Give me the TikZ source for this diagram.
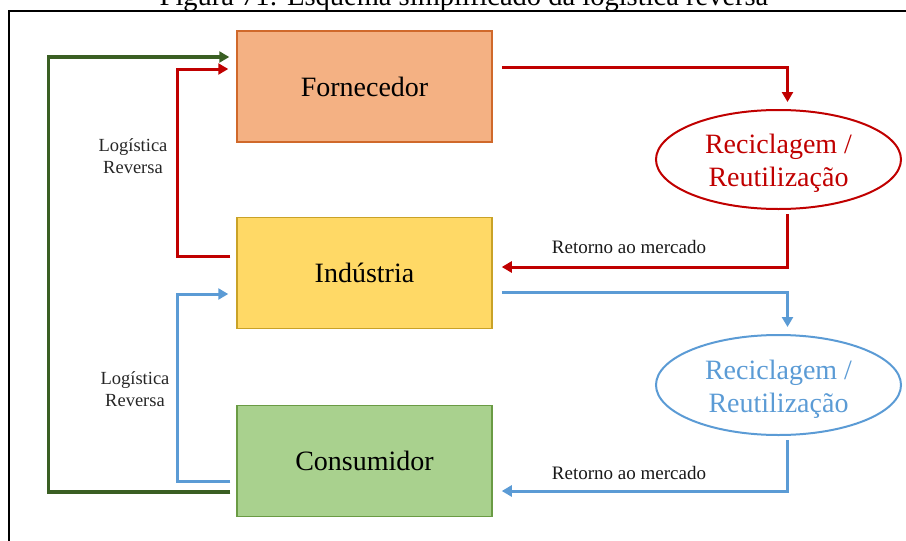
\documentclass[tikz,border=0pt]{standalone}
\usepackage{fontspec}
\setmainfont{Liberation Serif}
\usetikzlibrary{arrows.meta,calc,shapes.geometric}
\definecolor{orfill}{HTML}{F4B183}
\definecolor{ordraw}{HTML}{D0692B}
\definecolor{yefill}{HTML}{FFD966}
\definecolor{yedraw}{HTML}{C9A227}
\definecolor{grfill}{HTML}{A9D18E}
\definecolor{grdraw}{HTML}{6A9B44}
\definecolor{myred}{HTML}{C00000}
\definecolor{myblue}{HTML}{5B9BD5}
\definecolor{mygreen}{HTML}{3A5F23}
\tikzset{
  mainbox/.style={rectangle, minimum width=255pt, minimum height=111pt, inner sep=0pt, line width=1.5pt, font=\fontsize{28}{33}\selectfont},
  recell/.style={ellipse, minimum width=245pt, minimum height=99pt, inner sep=0pt, line width=2pt, align=center, font=\fontsize{28}{33}\selectfont},
  flow/.style={line width=3pt, -{Triangle[length=10pt,width=11pt]}},
  lbl/.style={align=center, font=\fontsize{18.5}{22}\selectfont, text=black!85},
  rlbl/.style={font=\fontsize{19}{22}\selectfont, text=black!90}
}
\begin{document}
\begin{tikzpicture}[x=1pt,y=-1pt]
\useasboundingbox (0,0) rectangle (906,541);
% frame and title
\node[anchor=base, font=\fontsize{28.5}{33}\selectfont] (title) at (464,5) {Figura 71: Esquema simplificado da logística reversa};
\draw[line width=2pt] (8.5,560) -- (8.5,11) -- (920,11);
% boxes
\node[mainbox, fill=orfill, draw=ordraw] (F) at (364.5,86.5) {Fornecedor};
\node[mainbox, fill=yefill, draw=yedraw] (I) at (364.5,273) {Indústria};
\node[mainbox, fill=grfill, draw=grdraw] (C) at (364.5,461) {Consumidor};
% ellipses
\node[recell, draw=myred, text=myred] (R1) at (778.5,159.5) {\rule{0pt}{27pt}Reciclagem /\\Reutilização};
\node[recell, draw=myblue, text=myblue, minimum height=100pt] (R2) at (778.5,385) {\rule{0pt}{27pt}Reciclagem /\\Reutilização};
% labels
\node[lbl] (L1) at (133,156) {Logística\\Reversa};
\node[lbl] (L2) at (135,389) {Logística\\Reversa};
\node[rlbl] (M1) at (629,247) {Retorno ao mercado};
\node[rlbl] (M2) at (629,473) {Retorno ao mercado};
% red flows
\draw[flow, myred, shorten >=7pt] ($(F.north east)+(9,37)$) -| ($(R1.north)+(9,0)$);
\draw[flow, myred, shorten <=4pt] ($(R1.south)+(9,0)$) |- ($(I.east)+(9,-6)$);
\draw[flow, myred] ($(I.west)+(-6,-17)$) -- ++(-53,0) |- ($(F.west)+(-8,-17.5)$);
% blue flows
\draw[flow, myblue, shorten >=7pt] ($(I.north east)+(9,76)$) -| ($(R2.north)+(9,0)$);
\draw[flow, myblue, shorten <=4pt] ($(R2.south)+(9,0)$) |- ($(C.east)+(9,30)$);
\draw[flow, myblue] ($(C.west)+(-6,20)$) -- ++(-53,0) |- ($(I.west)+(-8,21)$);
% green flow
\draw[flow, mygreen, line width=3.5pt] ($(C.west)+(-6,31)$) -- ++(-182,0) |- ($(F.west)+(-7,-29.5)$);
\end{tikzpicture}
\end{document}
